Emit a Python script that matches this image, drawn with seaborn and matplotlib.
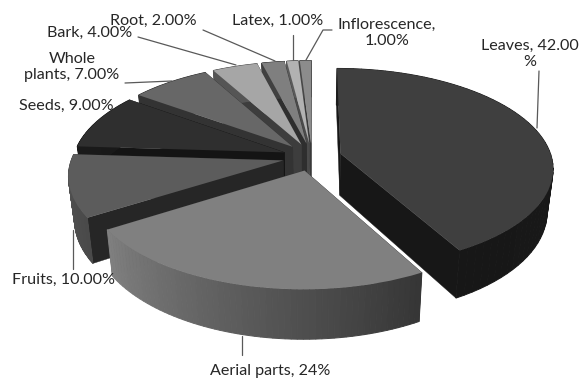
import numpy as np
import matplotlib
matplotlib.use("Agg")
import matplotlib.pyplot as plt
from matplotlib.transforms import Transform
import seaborn as sns

categories = ["Leaves", "Aerial parts", "Fruits", "Seeds", "Whole plants",
              "Bark", "Root", "Latex", "Inflorescence"]
shares = [42, 24, 10, 9, 7, 4, 2, 1, 1]
slice_labels = ["Leaves, 42.00\n%", "Aerial parts, 24%", "Fruits, 10.00%",
                "Seeds, 9.00%", "Whole\nplants, 7.00%", "Bark, 4.00%",
                "Root, 2.00%", "Latex, 1.00%", "Inflorescence,\n1.00%"]

top_colors = ["#3f3f3f", "#808080", "#5c5c5c", "#2f2f2f", "#676767",
              "#a6a6a6", "#7f7f7f", "#b2b2b2", "#8c8c8c"]
cut_colors = ["#171717", "#333333", "#262626", "#141414", "#333333",
              "#3d3d3d", "#2e2e2e", "#4a4a4a", "#3a3a3a"]
rim_start = ["#1b1b1b", "#363636", "#4a4a4a", "#1a1a1a", "#333333",
             "#555555", "#404040", "#5a5a5a", "#484848"]
rim_end = ["#171717", "#808080", "#565656", "#1a1a1a", "#333333",
           "#555555", "#404040", "#5a5a5a", "#484848"]

# Label centres and leader polylines, in pixel coordinates
label_xy = [(530, 54), (270, 371), (63, 280), (66, 106), (72, 67),
            (90, 33), (153, 21), (278, 21), (387, 33)]
label_align = ["center"] * 9
leaders = [[(539, 71), (537, 128)], [(242, 336), (242, 355)],
           [(73, 230), (73, 269)], None, [(125, 83), (172, 81)],
           [(138, 37), (236, 65)], [(203, 30), (275, 61)],
           [(293, 35), (293, 60)], [(332, 30), (323, 30), (306, 60)]]

# Camera model for the tilted disc
CX, CY = 312.0, 157.0
RX, RY = 211.0, 98.0
PERSPECTIVE = 0.14
DEPTH = 42.0
TAPER = 0.025
EXPLODE = 0.14


def project(u, v, z=0.0):
    """Map unit-disc coordinates at depth z (0 top, 1 bottom) to pixels."""
    u, v, z = np.asarray(u, float), np.asarray(v, float), np.asarray(z, float)
    w = 1 + PERSPECTIVE * v
    x = CX + RX * u / w * (1 - TAPER * z)
    y = CY - RY * v / w + DEPTH * z / w
    return x, y


class TiltedDisc(Transform):
    input_dims = output_dims = 2
    has_inverse = False
    is_separable = False

    def transform_non_affine(self, values):
        x, y = project(values[:, 0], values[:, 1])
        return np.column_stack([x, y])


sns.set_theme(style="white")
plt.rcParams["font.family"] = ["Lato", "DejaVu Sans"]

fig = plt.figure(figsize=(5.82, 3.79), dpi=100, facecolor="white")
ax = fig.add_axes([0, 0, 1, 1])

wedges, _ = ax.pie(shares, startangle=90, counterclock=False,
                   explode=[EXPLODE] * len(shares),
                   colors=sns.color_palette(top_colors),
                   wedgeprops={"linewidth": 0})

base = TiltedDisc() + ax.transData


def hex_rgb(c):
    return np.array(matplotlib.colors.to_rgb(c))


def draw_walls(w, cut, c0, c1, order):
    """Draw the side of one slice: two straight cuts and the curved rim."""
    cu, cv = w.center
    t = np.radians(np.linspace(w.theta1, w.theta2, 61))
    us, vs = cu + w.r * np.cos(t), cv + w.r * np.sin(t)
    for i in (0, -1):
        x0, y0 = project([cu, us[i], us[i], cu], [cv, vs[i], vs[i], cv], [0, 0, 1, 1])
        ax.fill(x0, y0, color=cut, lw=0.3, zorder=order)
    a, b = hex_rgb(c0), hex_rgb(c1)
    for j in range(len(t) - 1):
        f = j / (len(t) - 2)
        col = b * (1 - f) + a * f
        x0, y0 = project([us[j], us[j + 1], us[j + 1], us[j]],
                         [vs[j], vs[j + 1], vs[j + 1], vs[j]], [0, 0, 1, 1])
        ax.fill(x0, y0, facecolor=col, edgecolor=col, lw=0.7, zorder=order)


# Paint from the small back slices forward so nearer slices overlap them
paint_order = [8, 7, 6, 5, 4, 3, 2, 0, 1]
for rank, idx in enumerate(paint_order):
    w = wedges[idx]
    draw_walls(w, cut_colors[idx], rim_start[idx], rim_end[idx], 2 + rank * 2)
    w.set_transform(base)
    w.set_zorder(3 + rank * 2)

for text, (x, y), ha, leader in zip(slice_labels, label_xy, label_align, leaders):
    ax.text(x, y, text, ha=ha, va="center", fontsize=11.6, color="#262626",
            linespacing=1.2, zorder=40, multialignment="center")
    if leader:
        lx, ly = zip(*leader)
        ax.plot(lx, ly, color="#595959", lw=0.9, zorder=30)

ax.set_aspect("auto")
ax.set_xlim(0, 582)
ax.set_ylim(379, 0)
ax.axis("off")
fig.savefig("out.png", dpi=100, facecolor="white")
